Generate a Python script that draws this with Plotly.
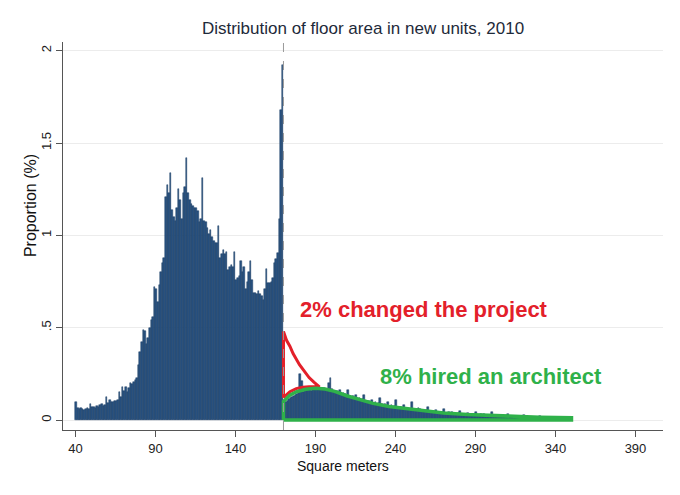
import plotly.graph_objects as go

# histogram: 1 m2 bins, left edges 40..349, share of units (%)
bins_start = 40
share_below = [
    .095, .065, .062, .065, .058, .052, .060, .065, .060, .085,
    .068, .072, .066, .078, .072, .080, .085, .078, .082, .125,
    .092, .110, .098, .100, .102, .105, .110, .150, .125, .180,
    .155, .180, .150, .175, .200, .195, .205, .215, .225, .300,
    .370, .420, .490, .480, .410, .445, .500, .540, .560, .720,
    .710, .640, .730, .800, .850, .880, 1.210, 1.270, 1.230, 1.340,
    1.140, 1.100, 1.080, 1.150, 1.250, 1.190, 1.090, 1.230, 1.260, 1.420,
    1.230, 1.190, 1.170, 1.160, 1.150, 1.150, 1.130, 1.070, 1.090, 1.310,
    1.080, 1.070, 1.040, 1.010, 1.030, .990, .970, .960, .960, 1.050,
    .880, .900, .920, .900, .910, .810, .830, .840, .830, .910,
    .760, .770, .780, .860, .800, .830, .710, .750, .800, .860,
    .760, .690, .690, .680, .700, .680, .670, .650, .710, .820,
    .740, .740, .745, .770, .850, .870, .905, 1.090, 1.680, 1.920,
]
share_above = [
    .085, .095, .105, .115, .120, .125, .130, .135, .140, .145,
    .250, .210, .150, .155, .160, .175, .160, .155, .165, .160,
    .185, .160, .165, .170, .160, .175, .165, .160, .200, .230,
    .170, .155, .150, .155, .145, .160, .140, .145, .140, .135,
    .160, .130, .125, .130, .120, .135, .115, .120, .110, .115,
    .135, .105, .100, .105, .095, .110, .090, .095, .088, .090,
    .120, .085, .082, .088, .078, .095, .076, .080, .072, .078,
    .110, .070, .068, .072, .065, .080, .064, .066, .060, .062,
    .100, .058, .056, .060, .065, .062, .054, .055, .050, .052,
    .070, .050, .048, .050, .046, .055, .045, .046, .042, .044,
    .062, .040, .040, .042, .038, .045, .036, .038, .035, .036,
    .050, .034, .033, .035, .032, .038, .031, .032, .030, .030,
    .045, .029, .028, .030, .027, .032, .026, .027, .025, .025,
    .042, .024, .023, .025, .022, .027, .022, .022, .020, .021,
    .030, .020, .019, .020, .018, .022, .018, .018, .017, .017,
    .026, .016, .016, .017, .015, .018, .015, .015, .014, .014,
    .022, .014, .013, .014, .013, .016, .012, .013, .012, .012,
    .018, .012, .011, .012, .011, .013, .010, .011, .010, .010,
]
notch = 170

# red outline: excess mass just above the notch
red_x = [170, 170, 172, 174, 176, 178, 180, 183, 186, 189, 192.5, 186, 182, 178, 174, 171, 170]
red_y = [.12, .48, .43, .40, .36, .33, .30, .265, .23, .205, .18, .18, .178, .17, .153, .13, .12]

# green outline: smoothed density of architect-designed units
green_x = [170, 170, 174, 178, 184, 190, 196, 202, 210, 218, 226, 236, 246, 256, 270, 285, 300, 315, 330, 350, 350, 170]
green_y = [0, .10, .135, .153, .167, .172, .168, .155, .13, .11, .09, .073, .063, .052, .038, .030, .024, .018, .015, .012, 0, 0]

x_ticks = [40, 90, 140, 190, 240, 290, 340, 390]
y_ticks = [0, 0.5, 1, 1.5, 2]
y_labels = ["0", ".5", "1", "1.5", "2"]

shares = share_below + share_above
centers = [bins_start + i + 0.5 for i in range(len(shares))]

FONT = "Liberation Sans, Arial, sans-serif"

fig = go.Figure()
fig.add_trace(go.Bar(
    x=centers, y=shares, width=1,
    marker=dict(color="#275282", line=dict(color="#1b3d63", width=0.5)),
    hoverinfo="skip", showlegend=False,
))
fig.add_trace(go.Scatter(
    x=red_x, y=red_y, mode="lines",
    line=dict(color="#e3202a", width=3), showlegend=False, hoverinfo="skip",
))
fig.add_trace(go.Scatter(
    x=green_x, y=green_y, mode="lines",
    line=dict(color="#2fb14a", width=3.5), showlegend=False, hoverinfo="skip",
))

fig.add_shape(type="line", x0=notch, x1=notch, y0=0, y1=1, yref="paper",
              line=dict(color="#9a9a9a", width=1, dash="dash"), layer="above")

fig.add_annotation(x=179, y=0.596, text="<b>2% changed the project</b>", showarrow=False,
                   xanchor="left", yanchor="middle", font=dict(size=22, color="#e3202a", family=FONT))
fig.add_annotation(x=229, y=0.238, text="<b>8% hired an architect</b>", showarrow=False,
                   xanchor="left", yanchor="middle", font=dict(size=22, color="#2fb14a", family=FONT))

fig.add_annotation(x=0.4667, y=-0.093, xref="paper", yref="paper", text="Square meters",
                   showarrow=False, xanchor="center", yanchor="middle",
                   font=dict(size=14, color="#111", family=FONT))
fig.add_annotation(x=-0.055, y=0.577, xref="paper", yref="paper", text="Proportion (%)",
                   textangle=-90, showarrow=False, xanchor="center", yanchor="middle",
                   font=dict(size=16, color="#111", family=FONT))

fig.update_layout(
    width=680, height=495,
    margin=dict(l=63, r=17, t=42, b=65),
    paper_bgcolor="white", plot_bgcolor="white",
    bargap=0,
    font=dict(family=FONT, size=13, color="#222"),
    title=dict(text="Distribution of floor area in new units, 2010",
               x=0.5, xref="paper", xanchor="center",
               y=1 - 28 / 495, yref="container", yanchor="middle",
               font=dict(size=17, color="#1e2a3a", family=FONT)),
)
fig.update_xaxes(
    range=[32.2, 407.2], tickvals=x_ticks, ticks="outside", ticklen=6,
    tickcolor="#555", showline=True, linecolor="#555", linewidth=1,
    showgrid=False, zeroline=False, tickfont=dict(size=13, color="#222"),
)
fig.update_yaxes(
    range=[-0.054, 2.047], tickvals=y_ticks, ticktext=y_labels, tickangle=-90,
    ticks="outside", ticklen=6, tickcolor="#555", showline=True, linecolor="#555",
    linewidth=1, showgrid=True, gridcolor="#ececec", gridwidth=1, zeroline=False,
    tickfont=dict(size=13, color="#222"),
)

# page has a default body margin; drop it so the figure sits at the window corner
fig.write_html("out.html", config={"displayModeBar": False},
               post_script="document.body.style.margin='0';")
